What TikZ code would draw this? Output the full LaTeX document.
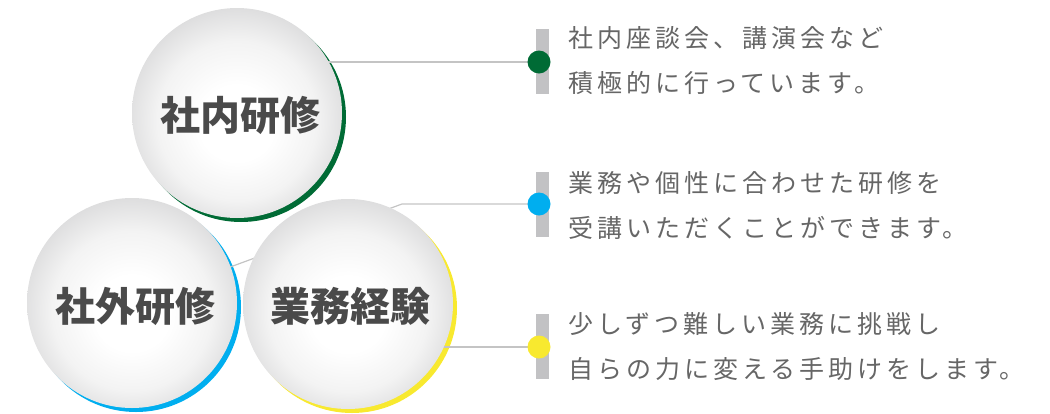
\documentclass[tikz,border=0pt]{standalone}
\usepackage{fontspec}
\newfontfamily\jp{Noto Sans CJK JP}
\newfontfamily\jpls{Noto Sans CJK JP}[LetterSpace=16]
\definecolor{ballgray}{HTML}{AEAFB1}
\definecolor{ballmid}{HTML}{D9D9DA}
\definecolor{balllight}{HTML}{F3F3F3}
\definecolor{gGreen}{HTML}{006B35}
\definecolor{gBlue}{HTML}{00AEEF}
\definecolor{gYellow}{HTML}{F8E92F}
\definecolor{lineg}{HTML}{C4C4C4}
\definecolor{barg}{HTML}{C2C2C4}
\definecolor{txt}{HTML}{666666}
\definecolor{ttl}{HTML}{4A4A4A}
\pgfdeclareradialshading{ball}{\pgfpoint{0bp}{-3bp}}{color(0bp)=(white); color(9bp)=(white); color(19bp)=(balllight); color(28bp)=(ballmid); color(35.5bp)=(ballgray); color(50bp)=(ballgray)}
\tikzset{
  ballnode/.style={circle, minimum size=210pt, inner sep=0pt, shading=ball},
  rimnode/.style={circle, minimum size=210pt, inner sep=0pt, fill=#1},
  ttlnode/.style={font=\jp\bfseries\fontsize{40}{40}\selectfont, text=ttl, inner sep=0pt},
  desc/.style={font=\jpls\fontsize{25}{45}\selectfont, text=txt, align=left, inner sep=0pt, anchor=west},
  conn/.style={draw=lineg, line width=1.2pt},
  barnode/.style={rectangle, minimum width=13pt, minimum height=65pt, inner sep=0pt, fill=barg},
  dotnode/.style={circle, minimum size=23pt, inner sep=0pt, fill=#1},
}
\begin{document}
\begin{tikzpicture}[x=1pt, y=-1pt]
\useasboundingbox (0,0) rectangle (1050,413);
\clip (0,0) rectangle (1050,413);
% anchor points
\coordinate (bend2) at (402,204);
\coordinate (dotpos1) at (539,62);
\coordinate (dotpos2) at (539,204);
\coordinate (dotpos3) at (539,347);
% rims
\node[rimnode=gGreen] (inRim) at (241,117) {};
\node[rimnode=gBlue] (outRim) at (136,307) {};
\node[rimnode=gYellow] (expRim) at (352,308) {};
% connectors (behind balls)
\draw[conn] (237,62) -- (dotpos1);
\draw[conn] (132,303) -- (bend2) -- (dotpos2);
\draw[conn] (348,347) -- (dotpos3);
% balls
\node[ballnode] (in) at (237,113) {};
\node[ballnode] (out) at (132,303) {};
\node[ballnode] (exp) at (348,304) {};
% titles
\node[ttlnode] (inT) at (240,115) {社内研修};
\node[ttlnode] (outT) at (135,306) {社外研修};
\node[ttlnode] (expT) at (350,306) {業務経験};
% bars and dots
\node[barnode] (bar1) at (542.5,61.5) {};
\node[barnode] (bar2) at (542.5,204.5) {};
\node[barnode] (bar3) at (542.5,346) {};
\node[dotnode=gGreen] (dot1) at (dotpos1) {};
\node[dotnode=gBlue] (dot2) at (dotpos2) {};
\node[dotnode=gYellow] (dot3) at (dotpos3) {};
% descriptions
\node[desc] (t1) at (568,61) {社内座談会、講演会など\\積極的に行っています。};
\node[desc] (t2) at (568,205) {業務や個性に合わせた研修を\\受講いただくことができます。};
\node[desc] (t3) at (568,347) {少しずつ難しい業務に挑戦し\\自らの力に変える手助けをします。};
\end{tikzpicture}
\end{document}
